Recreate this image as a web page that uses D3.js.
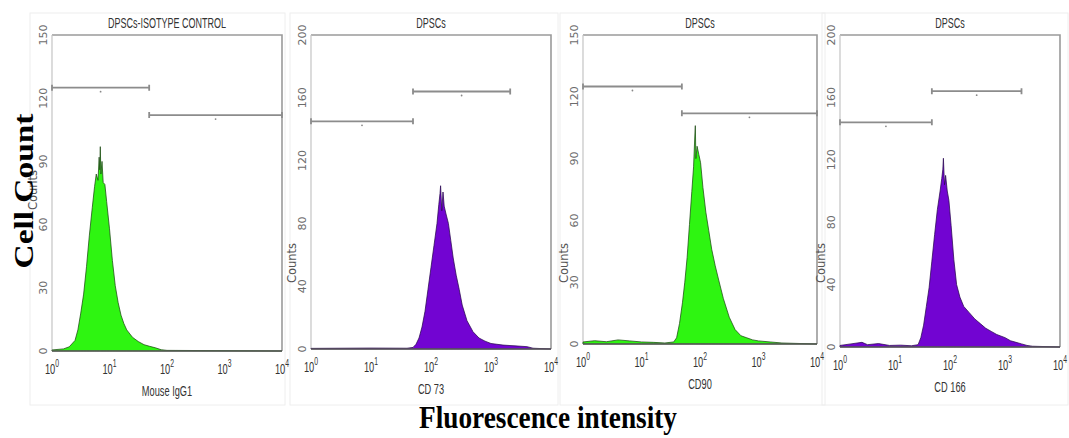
<!DOCTYPE html>
<html>
<head>
<meta charset="utf-8">
<script src="https://cdn.jsdelivr.net/npm/d3@7"></script>
<style>
  body { margin: 0; background: #fff; }
  svg { display: block; }
</style>
</head>
<body>
<svg id="chart" width="1069" height="438"></svg>
<script>
// panel texts
const titles = ["DPSCs-ISOTYPE CONTROL", "DPSCs", "DPSCs", "DPSCs"];
const markers = ["Mouse IgG1", "CD 73", "CD90", "CD 166"];
const fills = ["#2ef511", "#7204d2", "#2ef511", "#7204d2"];
const edges = ["#1d4a14", "#2a0850", "#1d4a14", "#2a0850"];
const yTicks = [
  [0, 30, 60, 90, 120, 150],
  [0, 40, 80, 120, 160, 200],
  [0, 30, 60, 90, 120, 150],
  [0, 40, 80, 120, 160, 200]
];
const xExponents = [0, 1, 2, 3, 4];

// histogram outlines: [log10 intensity, counts]
const isotype = [
  [0.0, 0.5], [0.2, 1], [0.3, 2], [0.4, 5], [0.45, 10], [0.5, 18], [0.55, 27], [0.6, 40],
  [0.65, 55], [0.7, 68], [0.74, 78], [0.77, 84], [0.8, 81], [0.82, 92], [0.83, 86],
  [0.84, 97], [0.85, 84], [0.87, 90], [0.89, 80], [0.92, 79], [0.95, 71], [1.0, 58],
  [1.05, 43], [1.1, 31], [1.15, 23], [1.2, 17], [1.25, 13], [1.3, 10], [1.4, 6.5],
  [1.5, 4.5], [1.6, 3], [1.7, 2.2], [1.8, 1.5], [1.9, 0.6], [2.0, 0.3], [4.0, 0]
];
const cd73 = [
  [0.0, 0.4], [1.0, 0.6], [1.6, 0.5], [1.7, 1], [1.75, 3], [1.8, 7], [1.85, 14],
  [1.9, 24], [1.95, 38], [2.0, 52], [2.05, 66], [2.1, 80], [2.13, 92], [2.15, 99],
  [2.16, 104], [2.18, 88], [2.2, 100], [2.22, 91], [2.25, 86], [2.29, 80], [2.33, 69],
  [2.37, 58], [2.42, 47], [2.47, 38], [2.52, 28], [2.6, 18], [2.7, 11], [2.8, 7],
  [2.9, 5], [3.0, 3.5], [3.2, 2.5], [3.4, 2], [3.6, 1.5], [3.7, 0.5], [4.0, 0]
];
const cd90 = [
  [0.0, 1], [0.2, 1.6], [0.4, 1.1], [0.6, 2], [0.8, 1.5], [1.0, 1], [1.2, 0.8],
  [1.4, 0.5], [1.55, 1], [1.6, 3], [1.65, 10], [1.7, 20], [1.74, 30], [1.78, 42],
  [1.82, 58], [1.86, 74], [1.89, 86], [1.91, 100], [1.92, 106], [1.93, 90], [1.95, 96],
  [1.98, 92], [2.01, 88], [2.05, 76], [2.1, 64], [2.15, 55], [2.2, 46], [2.26, 38],
  [2.32, 31], [2.4, 22], [2.5, 13], [2.6, 7], [2.7, 4], [2.8, 3], [2.9, 2], [3.0, 1.5],
  [3.2, 1], [3.4, 0.5], [4.0, 0]
];
const cd166 = [
  [0.0, 1], [0.2, 2], [0.4, 3], [0.5, 1.5], [0.7, 2.2], [0.9, 1], [1.1, 1.2], [1.3, 0.8],
  [1.42, 1.5], [1.47, 6], [1.52, 14], [1.57, 26], [1.62, 38], [1.67, 55], [1.72, 72],
  [1.77, 88], [1.82, 100], [1.85, 108], [1.87, 114], [1.88, 121], [1.9, 104], [1.92, 110],
  [1.95, 100], [1.98, 94], [2.02, 78], [2.07, 56], [2.12, 40], [2.18, 32], [2.25, 26],
  [2.35, 22], [2.45, 18], [2.55, 15], [2.65, 12], [2.75, 10], [2.85, 8], [3.0, 6],
  [3.1, 4], [3.2, 3], [3.3, 2], [3.4, 1], [3.5, 0.5], [4.0, 0]
];
const series = [isotype, cd73, cd90, cd166];

// gate markers: [from log10, to log10, counts level]
const gates = [
  [[0, 1.69, 125], [1.69, 4, 112]],
  [[0, 1.7, 145], [1.7, 3.32, 164]],
  [[0, 1.69, 125], [1.69, 4, 112]],
  [[0, 1.67, 144], [1.67, 3.3, 164]]
];

// layout of each panel box
const boxes = [
  { left: 52, right: 282, top: 35, bottom: 351, countsY: 190 },
  { left: 311, right: 551, top: 35, bottom: 349, countsY: 263 },
  { left: 583, right: 817, top: 35, bottom: 344, countsY: 263 },
  { left: 840, right: 1060, top: 35, bottom: 347, countsY: 263 }
];

const svg = d3.select("#chart");

// faint frames round the pasted panels
const frames = [[30, 13, 255, 392], [290, 13, 268, 392], [560, 13, 265, 392], [822, 13, 246, 392]];
svg.selectAll(".frame").data(frames).join("rect")
  .attr("class", "frame")
  .attr("x", d => d[0]).attr("y", d => d[1])
  .attr("width", d => d[2]).attr("height", d => d[3])
  .attr("fill", "none").attr("stroke", "#eeeeee").attr("stroke-width", 1);

boxes.forEach((b, i) => {
  const x = d3.scaleLog().domain([1, 1e4]).range([b.left, b.right]);
  const y = d3.scaleLinear().domain([0, d3.max(yTicks[i])]).range([b.bottom, b.top]);
  const g = svg.append("g").attr("class", "panel");

  // box: top, right, left
  g.append("path")
    .attr("d", `M${b.left},${b.top}H${b.right}V${b.bottom}`)
    .attr("fill", "none").attr("stroke", "#9a9a9a").attr("stroke-width", 1.6);
  g.append("line")
    .attr("x1", b.left).attr("x2", b.left).attr("y1", b.top).attr("y2", b.bottom)
    .attr("stroke", "#c4c4c4").attr("stroke-width", 1.2);

  // histogram
  const area = d3.area()
    .x(d => x(Math.pow(10, d[0])))
    .y0(y(0))
    .y1(d => y(d[1]));
  g.append("path")
    .datum(series[i])
    .attr("d", area)
    .attr("fill", fills[i])
    .attr("stroke", edges[i]).attr("stroke-width", 1).attr("stroke-opacity", 0.75);

  // baseline
  g.append("line")
    .attr("x1", b.left).attr("x2", b.right).attr("y1", y(0)).attr("y2", y(0))
    .attr("stroke", "#5a5a5a").attr("stroke-width", 1.4);

  // gates
  gates[i].forEach(gt => {
    const x0 = x(Math.pow(10, gt[0])), x1 = x(Math.pow(10, gt[1])), yy = y(gt[2]);
    g.append("path")
      .attr("d", `M${x0},${yy - 3}V${yy + 3}M${x0},${yy}H${x1}M${x1},${yy - 3}V${yy + 3}`)
      .attr("fill", "none").attr("stroke", "#8c8c8c").attr("stroke-width", 1.8);
    g.append("circle")
      .attr("cx", (x0 + x1) / 2).attr("cy", yy + 4).attr("r", 0.9)
      .attr("fill", "#888");
  });

  // y tick labels, rotated
  g.selectAll(".ytick").data(yTicks[i]).join("text")
    .attr("class", "ytick")
    .attr("transform", d => `translate(${b.left - 5},${y(d)}) rotate(-90)`)
    .attr("text-anchor", "middle")
    .attr("font-family", "DejaVu Sans")
    .attr("font-size", 11)
    .attr("fill", "#6c6c6c")
    .text(d => d);

  g.append("text")
    .attr("transform", `translate(${b.left - 15},${b.countsY}) rotate(-90)`)
    .attr("text-anchor", "middle")
    .attr("font-family", "DejaVu Sans")
    .attr("font-size", 11.5)
    .attr("fill", "#555")
    .text("Counts");

  // x tick labels 10^n, condensed
  const xt = g.selectAll(".xtick").data(xExponents).join("text")
    .attr("class", "xtick")
    .attr("transform", d => `translate(${x(Math.pow(10, d))},${b.bottom + 23}) scale(0.62,1)`)
    .attr("text-anchor", "middle")
    .attr("font-family", "Liberation Sans")
    .attr("font-size", 15)
    .attr("fill", "#333");
  xt.append("tspan").text("10");
  xt.append("tspan").attr("dy", -7).attr("font-size", 11).text(d => d);

  // marker label
  g.append("text")
    .attr("transform", `translate(${(b.left + b.right) / 2},${b.bottom + 45}) scale(0.66,1)`)
    .attr("text-anchor", "middle")
    .attr("font-family", "Liberation Sans")
    .attr("font-size", 14)
    .attr("fill", "#333")
    .text(markers[i]);

  // title
  g.append("text")
    .attr("transform", `translate(${(b.left + b.right) / 2},${b.top - 7}) scale(0.6,1)`)
    .attr("text-anchor", "middle")
    .attr("font-family", "Liberation Sans")
    .attr("font-size", 15)
    .attr("fill", "#333")
    .text(titles[i]);
});

// shared axis titles
svg.append("text")
  .attr("transform", "translate(33,191) rotate(-90)")
  .attr("text-anchor", "middle")
  .attr("font-family", "Liberation Serif")
  .attr("font-weight", "bold")
  .attr("font-size", 27)
  .attr("textLength", 155)
  .attr("lengthAdjust", "spacingAndGlyphs")
  .attr("fill", "#000")
  .text("Cell Count");

svg.append("text")
  .attr("x", 548).attr("y", 428)
  .attr("text-anchor", "middle")
  .attr("font-family", "Liberation Serif")
  .attr("font-weight", "bold")
  .attr("font-size", 32)
  .attr("textLength", 258)
  .attr("lengthAdjust", "spacingAndGlyphs")
  .attr("fill", "#000")
  .text("Fluorescence intensity");
</script>
</body>
</html>
